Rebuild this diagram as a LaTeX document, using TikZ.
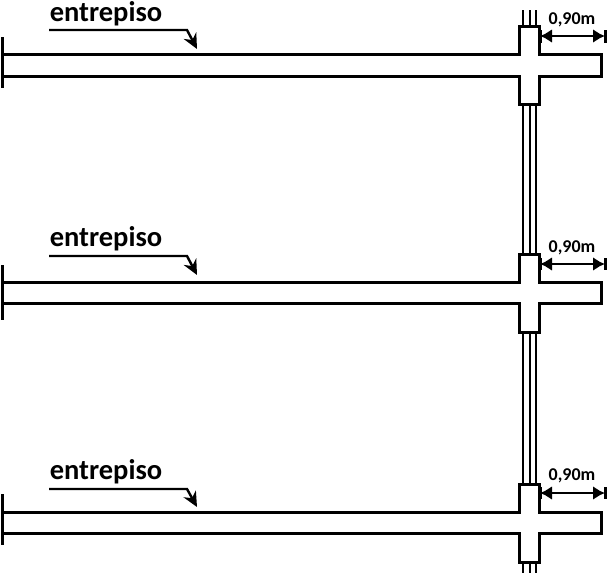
\documentclass[tikz,border=0pt]{standalone}
\usepackage{fontspec}
\setmainfont{Carlito}
\usetikzlibrary{arrows.meta}
\tikzset{
    slab/.style={line width=3pt, line join=miter},
    rebar/.style={line width=2.4pt},
    edgetick/.style={line width=3pt},
    leader/.style={line width=2.4pt, -{Stealth[length=15pt,width=14pt]}},
    dimline/.style={line width=2.4pt, {Latex[length=12pt,width=14pt]}-{Latex[length=12pt,width=14pt]}},
    floorlabel/.style={font=\bfseries\fontsize{28.5}{28}\selectfont, inner sep=0pt},
    dimlabel/.style={font=\bfseries\fontsize{18}{18}\selectfont, inner sep=0pt}
}
\begin{document}
\begin{tikzpicture}[x=1pt,y=-1pt]
    \useasboundingbox (0,0) rectangle (607,573);

    % Column bars
    \draw[rebar] (523,10) -- (523,573);
    \draw[rebar] (530,10) -- (530,573);
    \draw[rebar] (536,10) -- (536,573);

    % First floor %
    \draw[slab, fill=white] (2,54) -- (519.5,54) -- (519.5,26) -- (539,26) -- (539,54) -- (601,54) -- (601,76) -- (539,76) -- (539,104) -- (519.5,104) -- (519.5,76) -- (2,76) -- cycle;
    \draw[edgetick] (2,37) -- (2,88);
    \node[floorlabel] (floorA) at (106,13.5) {entrepiso};
    \coordinate (leadA) at (49,30);
    \draw[leader] (leadA) -- (187,30) -- (197,49);
    \node[dimlabel] (dimA) at (572,20) {0,90m};
    \coordinate (dimAl) at (540,36);
    \coordinate (dimAr) at (605,36);
    \draw[dimline] (dimAl) -- (dimAr);
    \draw[edgetick] (605,30) -- (605,43);
    \draw[edgetick] (540,30) -- (540,43);

    % Second floor %
    \draw[slab, fill=white] (2,282) -- (519.5,282) -- (519.5,254) -- (539,254) -- (539,282) -- (601,282) -- (601,303) -- (539,303) -- (539,332) -- (519.5,332) -- (519.5,303) -- (2,303) -- cycle;
    \draw[edgetick] (2,265) -- (2,320);
    \node[floorlabel] (floorB) at (106,239) {entrepiso};
    \coordinate (leadB) at (49,256);
    \draw[leader] (leadB) -- (187,256) -- (197,275);
    \node[dimlabel] (dimB) at (572,248) {0,90m};
    \coordinate (dimBl) at (540,264);
    \coordinate (dimBr) at (605,264);
    \draw[dimline] (dimBl) -- (dimBr);
    \draw[edgetick] (605,258) -- (605,270);
    \draw[edgetick] (540,258) -- (540,270);

    % Third floor %
    \draw[slab, fill=white] (2,512) -- (519.5,512) -- (519.5,484) -- (539,484) -- (539,512) -- (601,512) -- (601,533) -- (539,533) -- (539,562) -- (519.5,562) -- (519.5,533) -- (2,533) -- cycle;
    \draw[edgetick] (2,494) -- (2,545);
    \node[floorlabel] (floorC) at (106,472) {entrepiso};
    \coordinate (leadC) at (49,489);
    \draw[leader] (leadC) -- (187,489) -- (197,507);
    \node[dimlabel] (dimC) at (572,476) {0,90m};
    \coordinate (dimCl) at (540,493);
    \coordinate (dimCr) at (605,493);
    \draw[dimline] (dimCl) -- (dimCr);
    \draw[edgetick] (605,487) -- (605,499);
    \draw[edgetick] (540,487) -- (540,499);
\end{tikzpicture}
\end{document}
